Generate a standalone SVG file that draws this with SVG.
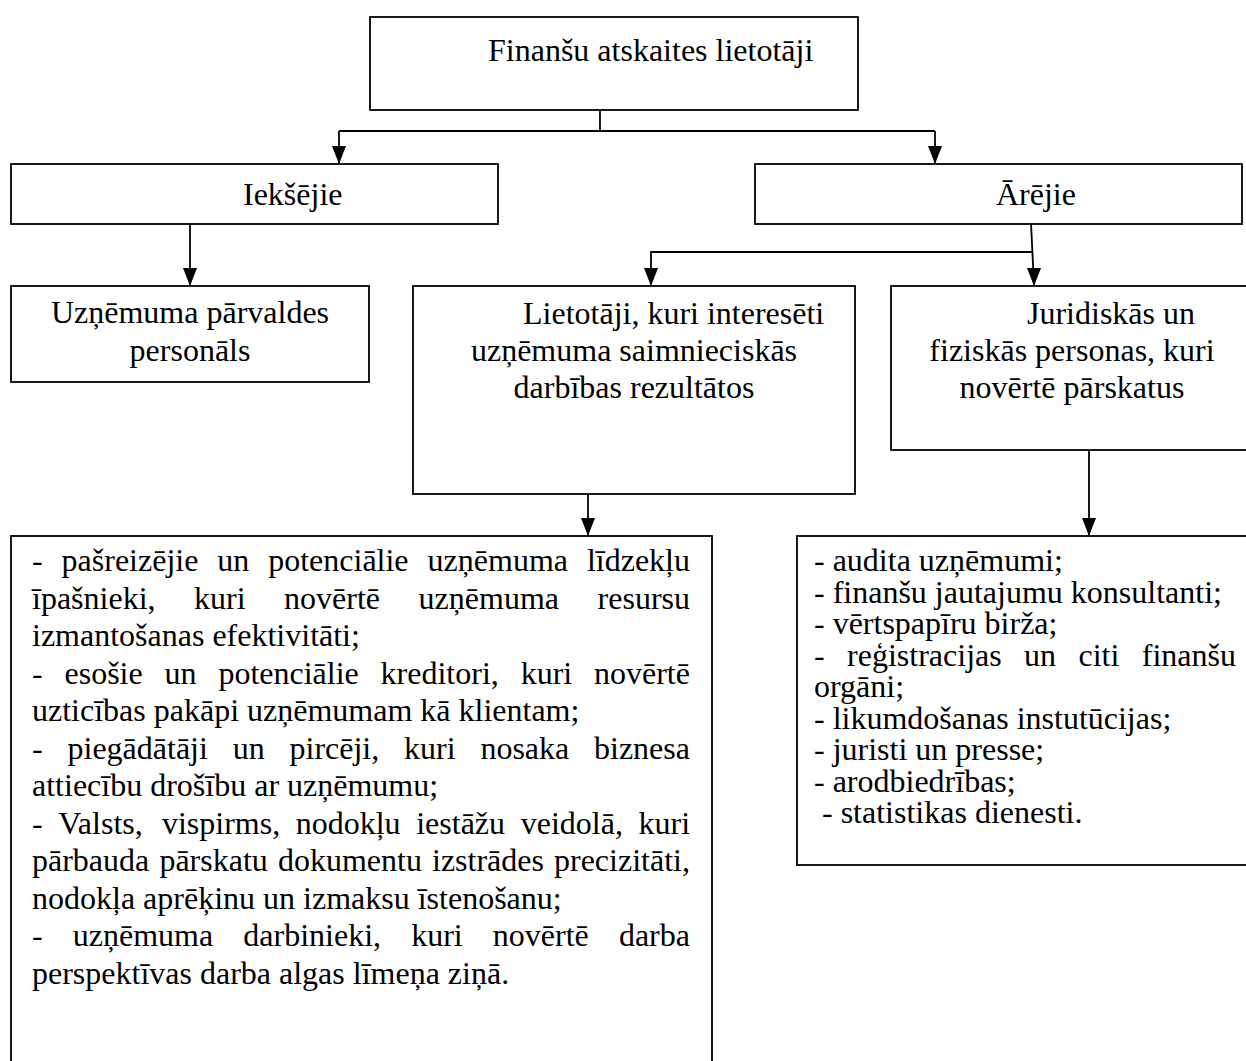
<svg xmlns="http://www.w3.org/2000/svg" width="1246" height="1061" viewBox="0 0 1246 1061">
<defs>
<marker id="ah" markerUnits="userSpaceOnUse" markerWidth="14" markerHeight="20" refX="7" refY="18" orient="auto-start-reverse" viewBox="0 0 14 20">
<path d="M0,0 L14,0 L7,20 Z" fill="#000"/>
</marker>
<style>
.box{fill:#fff;stroke:#000;stroke-width:1.8}
.t{font-family:"Liberation Serif","Times New Roman",serif;font-size:32px;fill:#000}
.c{fill:none;stroke:#000;stroke-width:1.8}
.m{text-anchor:middle}
</style>
</defs>
<rect width="1246" height="1061" fill="#fff"/>

<g id="connectors">
<polyline class="c" points="600,110 600,131"/>
<polyline class="c" points="339,131 935,131"/>
<line class="c" x1="339" y1="131" x2="339" y2="163"/>
<line class="c" x1="935" y1="131" x2="935" y2="163"/>
<line class="c" x1="190" y1="223" x2="190" y2="285"/>
<line class="c" x1="1031" y1="223" x2="1034" y2="285"/>
<polyline class="c" points="1032,252 651,252 651,285"/>
<line class="c" x1="588" y1="494" x2="588" y2="535"/>
<line class="c" x1="1089" y1="450" x2="1089" y2="535"/>
<g fill="#000">
<path d="M332,146 L346,146 L339,164 Z"/>
<path d="M928,146 L942,146 L935,164 Z"/>
<path d="M183,268 L197,268 L190,286 Z"/>
<path d="M644,268 L658,268 L651,286 Z"/>
<path d="M1027,268 L1041,268 L1034,286 Z"/>
<path d="M581,518 L595,518 L588,536 Z"/>
<path d="M1082,518 L1096,518 L1089,536 Z"/>
</g>
</g>

<g id="node-root">
<rect class="box" x="370" y="17" width="488" height="93"/>
<text class="t" x="488" y="61">Finanšu atskaites lietotāji</text>
</g>

<g id="node-iekse">
<rect class="box" x="11" y="164" width="487" height="60"/>
<text class="t" x="243" y="205">Iekšējie</text>
</g>

<g id="node-areje">
<rect class="box" x="755" y="164" width="487" height="60"/>
<text class="t" x="996" y="205">Ārējie</text>
</g>

<g id="node-personals">
<rect class="box" x="11" y="286" width="358" height="96"/>
<text class="t m" x="190" y="323">Uzņēmuma pārvaldes</text>
<text class="t m" x="190" y="361">personāls</text>
</g>

<g id="node-lietotaji">
<rect class="box" x="413" y="286" width="442" height="208"/>
<text class="t" x="523" y="324">Lietotāji, kuri interesēti</text>
<text class="t m" x="634" y="361">uzņēmuma saimnieciskās</text>
<text class="t m" x="634" y="398">darbības rezultātos</text>
</g>

<g id="node-juridiskas">
<rect class="box" x="891" y="286" width="370" height="164"/>
<text class="t" x="1027" y="324">Juridiskās un</text>
<text class="t m" x="1072" y="361">fiziskās personas, kuri</text>
<text class="t m" x="1072" y="398">novērtē pārskatus</text>
</g>

<g id="node-ieksejie-list">
<rect class="box" x="11" y="536" width="701" height="540"/>
<text class="t"><tspan x="32" y="571">-</tspan><tspan x="61.6">pašreizējie</tspan><tspan x="217.3">un</tspan><tspan x="268.2">potenciālie</tspan><tspan x="427.6">uzņēmuma</tspan><tspan x="586.9">līdzekļu</tspan></text>
<text class="t"><tspan x="32" y="608.5">īpašnieki,</tspan><tspan x="194.1">kuri</tspan><tspan x="284.1">novērtē</tspan><tspan x="418.6">uzņēmuma</tspan><tspan x="597.6">resursu</tspan></text>
<text class="t" x="32" y="646">izmantošanas efektivitāti;</text>
<text class="t"><tspan x="32" y="683.5">-</tspan><tspan x="64.5">esošie</tspan><tspan x="164.5">un</tspan><tspan x="218.4">potenciālie</tspan><tspan x="380.6">kreditori,</tspan><tspan x="520.7">kuri</tspan><tspan x="594">novērtē</tspan></text>
<text class="t" x="32" y="721">uzticības pakāpi uzņēmumam kā klientam;</text>
<text class="t"><tspan x="32" y="758.5">-</tspan><tspan x="67.5">piegādātāji</tspan><tspan x="232.7">un</tspan><tspan x="289.5">pircēji,</tspan><tspan x="404">kuri</tspan><tspan x="480.4">nosaka</tspan><tspan x="594">biznesa</tspan></text>
<text class="t" x="32" y="796">attiecību drošību ar uzņēmumu;</text>
<text class="t"><tspan x="32" y="833.5">-</tspan><tspan x="58.3">Valsts,</tspan><tspan x="161.9">vispirms,</tspan><tspan x="295.7">nodokļu</tspan><tspan x="416.2">iestāžu</tspan><tspan x="520.7">veidolā,</tspan><tspan x="638.5">kuri</tspan></text>
<text class="t"><tspan x="32" y="871">pārbauda</tspan><tspan x="159.4">pārskatu</tspan><tspan x="277.9">dokumentu</tspan><tspan x="432">izstrādes</tspan><tspan x="554">precizitāti,</tspan></text>
<text class="t" x="32" y="908.5">nodokļa aprēķinu un izmaksu īstenošanu;</text>
<text class="t"><tspan x="32" y="946">-</tspan><tspan x="72.8">uzņēmuma</tspan><tspan x="243.3">darbinieki,</tspan><tspan x="411.2">kuri</tspan><tspan x="492.8">novērtē</tspan><tspan x="618.9">darba</tspan></text>
<text class="t" x="32" y="983.5">perspektīvas darba algas līmeņa ziņā.</text>
</g>

<g id="node-areje-list">
<rect class="box" x="797" y="536" width="470" height="329"/>
<text class="t" x="814" y="571">- audita uzņēmumi;</text>
<text class="t" x="814" y="602.5">- finanšu jautajumu konsultanti;</text>
<text class="t" x="814" y="634">- vērtspapīru birža;</text>
<text class="t"><tspan x="814" y="665.5">-</tspan><tspan x="847.1">reģistracijas</tspan><tspan x="1024.1">un</tspan><tspan x="1078.5">citi</tspan><tspan x="1141.8">finanšu</tspan></text>
<text class="t" x="814" y="697">orgāni;</text>
<text class="t" x="814" y="728.5">- likumdošanas instutūcijas;</text>
<text class="t" x="814" y="760">- juristi un presse;</text>
<text class="t" x="814" y="791.5">- arodbiedrības;</text>
<text class="t" x="822" y="823">- statistikas dienesti.</text>
</g>
</svg>
